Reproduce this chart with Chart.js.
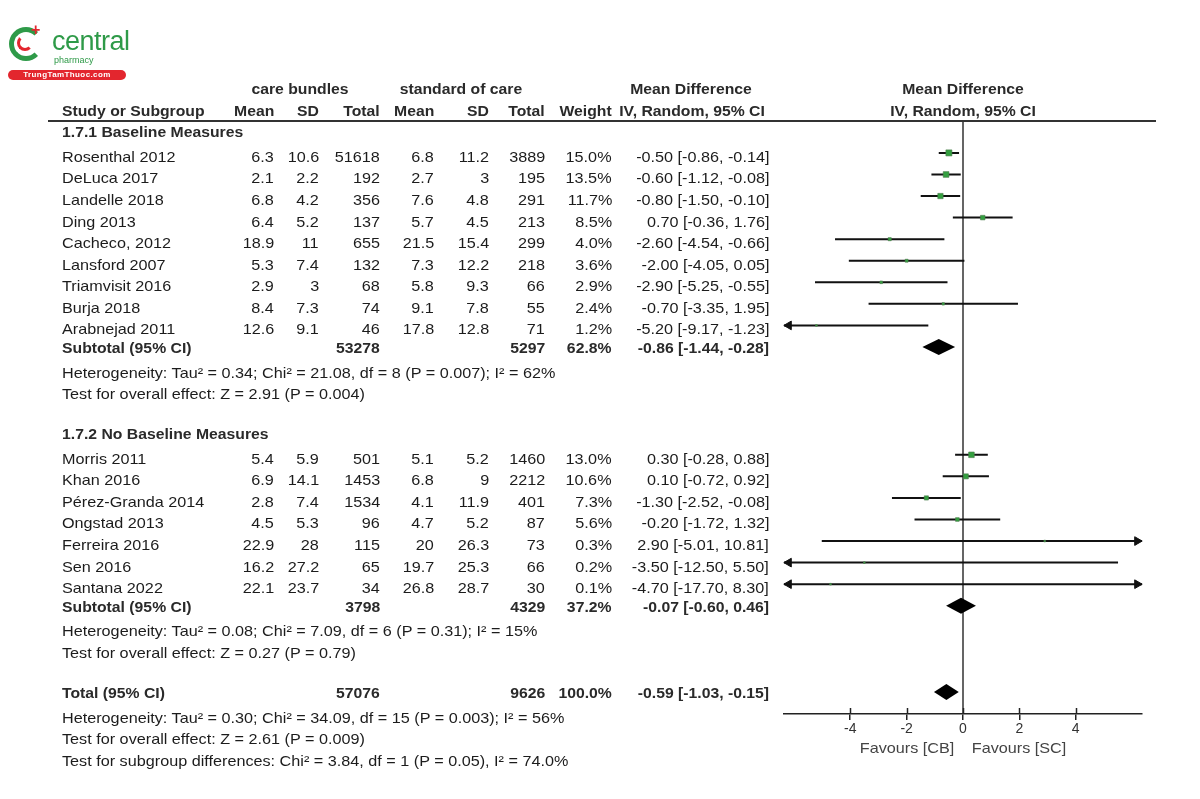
<!DOCTYPE html>
<html>
<head>
<meta charset="utf-8">
<script src="https://cdn.jsdelivr.net/npm/chart.js@4.4.0/dist/chart.umd.min.js"></script>
<style>
  html, body { margin: 0; padding: 0; background: #fff; }
  #wrap { position: relative; width: 1200px; height: 799px; overflow: hidden; font-family: "Liberation Sans", Arial, sans-serif; color: #1c1c1c; }
  #forest { position: absolute; left: 0; top: 0; }
  .t { position: absolute; font-size: 15px; line-height: 1; white-space: nowrap; }
  .b { font-weight: bold; color: #2a2a2a; }
  .rule { position: absolute; left: 48px; width: 1108px; top: 120px; border-top: 2px solid #333; }
  .logo-ring { position: absolute; left: 9px; top: 27px; width: 24px; height: 24px; border: 5px solid #2e9a48; border-right-color: transparent; border-radius: 50%; }
  .logo-inner { position: absolute; left: 17px; top: 35px; width: 10px; height: 10px; border: 3px solid #e3262e; border-right-color: transparent; border-top-color: transparent; border-radius: 50%; }
  .logo-plus { position: absolute; left: 31px; top: 21px; font: bold 16px "Liberation Sans", Arial, sans-serif; color: #e3262e; }
  .logo-name { position: absolute; left: 52px; top: 26px; font: 27px "Liberation Sans", Arial, sans-serif; color: #2e9a48; letter-spacing: -0.5px; }
  .logo-sub { position: absolute; left: 54px; top: 55px; font: 9px "Liberation Sans", Arial, sans-serif; color: #2e9a48; }
  .logo-pill { position: absolute; left: 8px; top: 70px; width: 118px; height: 10px; border-radius: 5px; background: #e3262e; color: #fff; font: bold 8px "Liberation Sans", Arial, sans-serif; line-height: 10px; text-align: center; letter-spacing: 0.4px; }
</style>
</head>
<body>
<div id="wrap">
  <canvas id="forest" width="1200" height="799"></canvas>
  <div class="logo-ring"></div>
  <div class="logo-inner"></div>
  <div class="logo-plus">+</div>
  <div class="logo-name">central</div>
  <div class="logo-sub">pharmacy</div>
  <div class="logo-pill">TrungTamThuoc.com</div>
  <div class="rule"></div>
</div>
<script>
const studyNames = ['Rosenthal 2012', 'DeLuca 2017', 'Landelle 2018', 'Ding 2013', 'Cacheco, 2012', 'Lansford 2007',
  'Triamvisit 2016', 'Burja 2018', 'Arabnejad 2011', 'Morris 2011', 'Khan 2016', 'Pérez-Granda 2014', 'Ongstad 2013',
  'Ferreira 2016', 'Sen 2016', 'Santana 2022'];
const studyGroup = [0, 0, 0, 0, 0, 0, 0, 0, 0, 1, 1, 1, 1, 1, 1, 1];
const cbMean = [6.3, 2.1, 6.8, 6.4, 18.9, 5.3, 2.9, 8.4, 12.6, 5.4, 6.9, 2.8, 4.5, 22.9, 16.2, 22.1];
const cbSD = [10.6, 2.2, 4.2, 5.2, 11, 7.4, 3, 7.3, 9.1, 5.9, 14.1, 7.4, 5.3, 28, 27.2, 23.7];
const cbTotal = [51618, 192, 356, 137, 655, 132, 68, 74, 46, 501, 1453, 1534, 96, 115, 65, 34];
const scMean = [6.8, 2.7, 7.6, 5.7, 21.5, 7.3, 5.8, 9.1, 17.8, 5.1, 6.8, 4.1, 4.7, 20, 19.7, 26.8];
const scSD = [11.2, 3, 4.8, 4.5, 15.4, 12.2, 9.3, 7.8, 12.8, 5.2, 9, 11.9, 5.2, 26.3, 25.3, 28.7];
const scTotal = [3889, 195, 291, 213, 299, 218, 66, 55, 71, 1460, 2212, 401, 87, 73, 66, 30];
const weights = [15.0, 13.5, 11.7, 8.5, 4.0, 3.6, 2.9, 2.4, 1.2, 13.0, 10.6, 7.3, 5.6, 0.3, 0.2, 0.1];
const meanDiff = [-0.50, -0.60, -0.80, 0.70, -2.60, -2.00, -2.90, -0.70, -5.20, 0.30, 0.10, -1.30, -0.20, 2.90, -3.50, -4.70];
const ciLow = [-0.86, -1.12, -1.50, -0.36, -4.54, -4.05, -5.25, -3.35, -9.17, -0.28, -0.72, -2.52, -1.72, -5.01, -12.50, -17.70];
const ciHigh = [-0.14, -0.08, -0.10, 1.76, -0.66, 0.05, -0.55, 1.95, -1.23, 0.88, 0.92, -0.08, 1.32, 10.81, 5.50, 8.30];

const groupTitles = ['1.7.1 Baseline Measures', '1.7.2 No Baseline Measures'];
const summaryLabels = ['Subtotal (95% CI)', 'Subtotal (95% CI)', 'Total (95% CI)'];
const summaryCbTotal = [53278, 3798, 57076];
const summaryScTotal = [5297, 4329, 9626];
const summaryWeight = [62.8, 37.2, 100.0];
const summaryMD = [-0.86, -0.07, -0.59];
const summaryLow = [-1.44, -0.60, -1.03];
const summaryHigh = [-0.28, 0.46, -0.15];
const summaryNotes = [
  ['Heterogeneity: Tau² = 0.34; Chi² = 21.08, df = 8 (P = 0.007); I² = 62%',
   'Test for overall effect: Z = 2.91 (P = 0.004)'],
  ['Heterogeneity: Tau² = 0.08; Chi² = 7.09, df = 6 (P = 0.31); I² = 15%',
   'Test for overall effect: Z = 0.27 (P = 0.79)'],
  ['Heterogeneity: Tau² = 0.30; Chi² = 34.09, df = 15 (P = 0.003); I² = 56%',
   'Test for overall effect: Z = 2.61 (P = 0.009)',
   'Test for subgroup differences: Chi² = 3.84, df = 1 (P = 0.05), I² = 74.0%']
];

const xTicks = [-4, -2, 0, 2, 4];
const favourLabels = ['Favours [CB]', 'Favours [SC]'];
const favourAt = [-2, 2];

// scale limits (row units on y, mean difference on x)
const X_MIN = -6.35;
const X_MAX = 6.35;
const Y_MIN = -1.48;
const Y_MAX = 26.02;

// work out which row every line of the table sits on
const studyRow = [];
const groupTitleRow = [];
const summaryRow = [];
const noteRows = [];
let row = -1;
for (let g = 0; g < groupTitles.length; g++) {
  groupTitleRow.push(row++);
  studyNames.forEach((name, i) => {
    if (studyGroup[i] === g) studyRow[i] = row++;
  });
  summaryRow.push(row++);
  noteRows.push(summaryNotes[g].map(() => row++));
  row++;
}
summaryRow.push(row++);
noteRows.push(summaryNotes[2].map(() => row++));

const fmt = v => v.toFixed(2);
const ciText = (m, lo, hi) => `${fmt(m)} [${fmt(lo)}, ${fmt(hi)}]`;

const ciSegments = [];
studyNames.forEach((name, i) => {
  ciSegments.push({ x: ciLow[i], y: studyRow[i] });
  ciSegments.push({ x: ciHigh[i], y: studyRow[i] });
  ciSegments.push({ x: meanDiff[i], y: null });
});

const ARROW_INSET = 0.17;
const arrowPoints = [];
const arrowRotation = [];
studyNames.forEach((name, i) => {
  if (ciLow[i] < X_MIN) {
    arrowPoints.push({ x: X_MIN + ARROW_INSET, y: studyRow[i] });
    arrowRotation.push(-90);
  }
  if (ciHigh[i] > X_MAX) {
    arrowPoints.push({ x: X_MAX - ARROW_INSET, y: studyRow[i] });
    arrowRotation.push(90);
  }
});

const diamondPlugin = {
  id: 'diamonds',
  afterDatasetsDraw(chart) {
    const { ctx, scales: { x, y } } = chart;
    ctx.save();
    ctx.fillStyle = '#000';
    summaryMD.forEach((m, i) => {
      const yc = y.getPixelForValue(summaryRow[i]);
      const half = 8;
      ctx.beginPath();
      ctx.moveTo(x.getPixelForValue(summaryLow[i]), yc);
      ctx.lineTo(x.getPixelForValue(m), yc - half);
      ctx.lineTo(x.getPixelForValue(summaryHigh[i]), yc);
      ctx.lineTo(x.getPixelForValue(m), yc + half);
      ctx.closePath();
      ctx.fill();
    });
    ctx.restore();
  }
};

const upTickPlugin = {
  id: 'upTicks',
  afterDraw(chart) {
    const { ctx, chartArea, scales: { x } } = chart;
    ctx.save();
    ctx.strokeStyle = '#222';
    ctx.lineWidth = 1.5;
    xTicks.forEach(v => {
      const px = Math.round(x.getPixelForValue(v)) + 0.5;
      ctx.beginPath();
      ctx.moveTo(px, chartArea.bottom - 6);
      ctx.lineTo(px, chartArea.bottom);
      ctx.stroke();
    });
    ctx.restore();
  }
};

const chart = new Chart(document.getElementById('forest'), {
  type: 'scatter',
  data: {
    datasets: [
      {
        type: 'line',
        data: [{ x: 0, y: Y_MIN }, { x: 0, y: Y_MAX }],
        borderColor: '#333',
        borderWidth: 1.5,
        pointRadius: 0,
        order: 4
      },
      {
        type: 'line',
        data: ciSegments,
        borderColor: '#111',
        borderWidth: 2,
        pointRadius: 0,
        spanGaps: false,
        order: 3
      },
      {
        type: 'scatter',
        data: studyNames.map((name, i) => ({ x: meanDiff[i], y: studyRow[i] })),
        pointStyle: 'rect',
        pointRadius: weights.map(w => Math.max(1.2, 1.1 * Math.sqrt(w))),
        pointBackgroundColor: '#34a040',
        pointBorderColor: '#4c7a4c',
        pointBorderWidth: 0.6,
        order: 1
      },
      {
        type: 'scatter',
        data: arrowPoints,
        pointStyle: 'triangle',
        pointRotation: arrowRotation,
        pointRadius: 5,
        pointBackgroundColor: '#111',
        pointBorderColor: '#111',
        pointBorderWidth: 1,
        clip: false,
        order: 2
      }
    ]
  },
  options: {
    responsive: false,
    devicePixelRatio: 1,
    animation: false,
    events: [],
    layout: { padding: { left: 784, right: 58, top: 121, bottom: 45 } },
    plugins: { legend: { display: false }, tooltip: { enabled: false } },
    scales: {
      x: {
        type: 'linear',
        min: X_MIN,
        max: X_MAX,
        afterBuildTicks: scale => { scale.ticks = xTicks.map(v => ({ value: v })); },
        afterFit: scale => { scale.height = 40; },
        border: { display: true, color: '#222', width: 1.5 },
        grid: { drawOnChartArea: false, drawTicks: true, tickLength: 6, color: '#222', lineWidth: 1.5 },
        ticks: { color: '#333', font: { family: 'Liberation Sans', size: 14 }, padding: 1 }
      },
      y: {
        type: 'linear',
        reverse: true,
        min: Y_MIN,
        max: Y_MAX,
        display: false
      }
    }
  },
  plugins: [diamondPlugin, upTickPlugin]
});

// table text, placed on the same y scale as the marks
const wrap = document.getElementById('wrap');
const yScale = chart.scales.y;
const xScale = chart.scales.x;
const area = chart.chartArea;

const put = (text, x, y, align, bold) => {
  const el = document.createElement('div');
  el.className = 't' + (bold ? ' b' : '');
  el.textContent = text;
  el.style.top = y + 'px';
  const sx = bold ? 1.05 : 1.08;
  if (align === 'right') {
    el.style.right = (1200 - x) + 'px';
    el.style.transformOrigin = 'right center';
    el.style.transform = `translateY(-50%) scaleX(${sx})`;
  } else if (align === 'center') {
    el.style.left = x + 'px';
    el.style.transform = `translate(-50%, -50%) scaleX(${sx})`;
  } else {
    el.style.left = x + 'px';
    el.style.transformOrigin = 'left center';
    el.style.transform = `translateY(-50%) scaleX(${sx})`;
  }
  wrap.appendChild(el);
  return el;
};

const rowY = (r, shift = 0) => yScale.getPixelForValue(r) + shift;
const col = { name: 62, cbMean: 274, cbSD: 319, cbTotal: 380, scMean: 434, scSD: 489, scTotal: 545, weight: 612, ci: 769 };

// header rows
put('care bundles', 300, rowY(-3), 'center', true);
put('standard of care', 461, rowY(-3), 'center', true);
put('Mean Difference', 691, rowY(-3), 'center', true);
put('Mean Difference', (area.left + area.right) / 2, rowY(-3), 'center', true);
put('Study or Subgroup', col.name, rowY(-2), 'left', true);
put('Mean', col.cbMean, rowY(-2), 'right', true);
put('SD', col.cbSD, rowY(-2), 'right', true);
put('Total', col.cbTotal, rowY(-2), 'right', true);
put('Mean', col.scMean, rowY(-2), 'right', true);
put('SD', col.scSD, rowY(-2), 'right', true);
put('Total', col.scTotal, rowY(-2), 'right', true);
put('Weight', col.weight, rowY(-2), 'right', true);
put('IV, Random, 95% CI', 692, rowY(-2), 'center', true);
put('IV, Random, 95% CI', (area.left + area.right) / 2, rowY(-2), 'center', true);

groupTitles.forEach((title, g) => put(title, col.name, rowY(groupTitleRow[g]), 'left', true));

studyNames.forEach((name, i) => {
  const y = rowY(studyRow[i], 3);
  put(name, col.name, y, 'left');
  put(String(cbMean[i]), col.cbMean, y, 'right');
  put(String(cbSD[i]), col.cbSD, y, 'right');
  put(String(cbTotal[i]), col.cbTotal, y, 'right');
  put(String(scMean[i]), col.scMean, y, 'right');
  put(String(scSD[i]), col.scSD, y, 'right');
  put(String(scTotal[i]), col.scTotal, y, 'right');
  put(weights[i].toFixed(1) + '%', col.weight, y, 'right');
  put(ciText(meanDiff[i], ciLow[i], ciHigh[i]), col.ci, y, 'right');
});

summaryLabels.forEach((label, i) => {
  const y = rowY(summaryRow[i]);
  put(label, col.name, y, 'left', true);
  put(String(summaryCbTotal[i]), col.cbTotal, y, 'right', true);
  put(String(summaryScTotal[i]), col.scTotal, y, 'right', true);
  put(summaryWeight[i].toFixed(1) + '%', col.weight, y, 'right', true);
  put(ciText(summaryMD[i], summaryLow[i], summaryHigh[i]), col.ci, y, 'right', true);
  summaryNotes[i].forEach((note, k) => put(note, col.name, rowY(noteRows[i][k], 3), 'left'));
});

favourLabels.forEach((label, i) => {
  const el = put(label, xScale.getPixelForValue(favourAt[i]), area.bottom + 33, 'center');
  el.style.color = '#444';
});
</script>
</body>
</html>
